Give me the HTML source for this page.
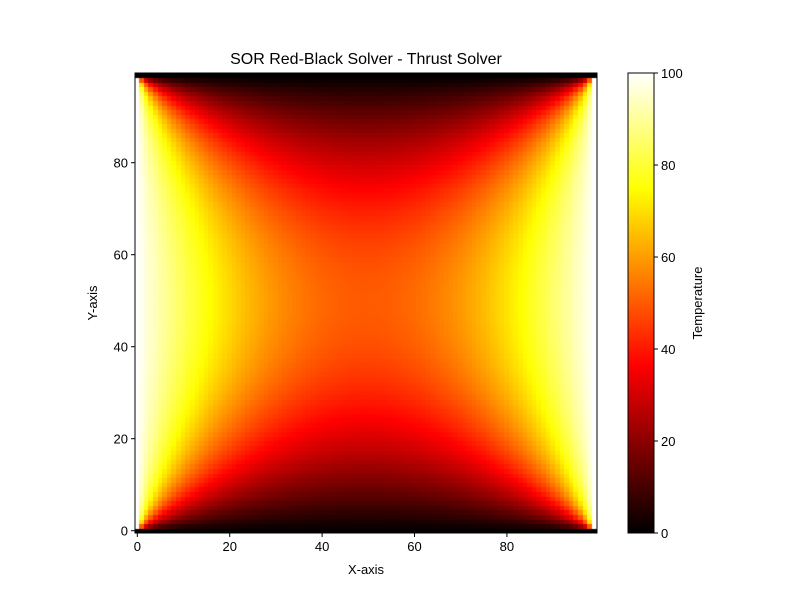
<!DOCTYPE html>
<html><head><meta charset="utf-8"><style>
html,body{margin:0;padding:0;background:#fff;}
#wrap{position:relative;width:800px;height:600px;font-family:"Liberation Sans",sans-serif;}
canvas{position:absolute;}
svg{position:absolute;left:0;top:0;}
</style></head><body>
<div id="wrap">
<canvas id="heat" width="462" height="460" style="left:135px;top:73px"></canvas>
<canvas id="cbar" width="26" height="460" style="left:628px;top:73px"></canvas>
<svg id="ax" width="800" height="600"></svg>
</div>
<script>
// data: boundary conditions of the solved plate
const gridSize = 100;
const leftTemp = 100;
const rightTemp = 100;
const topTemp = 0;
const bottomTemp = 0;
const xTicks = [0,20,40,60,80];
const yTicks = [0,20,40,60,80];
const cbarTicks = [0,20,40,60,80,100];
const vmin = 0, vmax = 100;

// SOR red-black solve
const N = gridSize;
const T = [];
for (let j=0;j<N;j++){T.push(new Float64Array(N));}
for (let j=0;j<N;j++){T[j][0]=leftTemp;T[j][N-1]=rightTemp;}
for (let i=0;i<N;i++){T[0][i]=bottomTemp;T[N-1][i]=topTemp;}
for (let j=1;j<N-1;j++) for (let i=1;i<N-1;i++) T[j][i]=50;
const w=1.94;
for (let it=0;it<3000;it++){
  let md=0;
  for (let c=0;c<2;c++){
    for (let j=1;j<N-1;j++){
      for (let i=1+((j+c)%2);i<N-1;i+=2){
        const nv=0.25*(T[j-1][i]+T[j+1][i]+T[j][i-1]+T[j][i+1]);
        const d=nv-T[j][i];T[j][i]+=w*d;if(Math.abs(d)>md)md=Math.abs(d);
      }
    }
  }
  if(md<1e-5)break;
}
function hot(v){
  const x=Math.max(0,Math.min(1,(v-vmin)/(vmax-vmin)));
  const r=Math.min(1,x/0.365079),g=Math.max(0,Math.min(1,(x-0.365079)/(0.746032-0.365079))),b=Math.max(0,Math.min(1,(x-0.746032)/(1-0.746032)));
  return `rgb(${Math.round(r*255)},${Math.round(g*255)},${Math.round(b*255)})`;
}
// axis functions
const L=135,R=597,Tp=73,B=533;
const xs=v=>L+(v+0.5)/N*(R-L);
const ys=v=>B-(v+0.5)/N*(B-Tp);
const hc=document.getElementById('heat').getContext('2d');
for(let j=0;j<N;j++)for(let i=0;i<N;i++){
  hc.fillStyle=hot(T[j][i]);
  const x0=xs(i-0.5)-L,x1=xs(i+0.5)-L,y0=ys(j+0.5)-Tp,y1=ys(j-0.5)-Tp;
  hc.fillRect(Math.floor(x0),Math.floor(y0),Math.ceil(x1)-Math.floor(x0),Math.ceil(y1)-Math.floor(y0));
}
const cc=document.getElementById('cbar').getContext('2d');
for(let y=0;y<460;y++){cc.fillStyle=hot(vmax-(y+0.5)/460*(vmax-vmin));cc.fillRect(0,y,26,1);}
const svg=document.getElementById('ax');const NS='http://www.w3.org/2000/svg';
function mk(t,a,txt){const e=document.createElementNS(NS,t);for(const k in a)e.setAttribute(k,a[k]);if(txt!==undefined)e.textContent=txt;svg.appendChild(e);return e;}
let e;
e=mk('rect',{x:L,y:Tp,width:R-L,height:B-Tp,fill:'none',stroke:'#000','stroke-width':1});


xTicks.forEach(v=>{
  e=mk('line',{x1:xs(v),x2:xs(v),y1:B,y2:B+4,stroke:'#000'});
  
  
  e=mk('text',{x:xs(v),y:B+18,'font-size':13,'text-anchor':'middle'},v);
  
  
});
yTicks.forEach(v=>{
  e=mk('line',{x1:L-4,x2:L,y1:ys(v),y2:ys(v),stroke:'#000'});
  
  
  e=mk('text',{x:L-7,y:ys(v)+5,'font-size':13,'text-anchor':'end'},v);
  
  
});
e=mk('rect',{x:628,y:73,width:26,height:460,fill:'none',stroke:'#000'});


const cy=v=>533-(v-vmin)/(vmax-vmin)*460;
cbarTicks.forEach(v=>{
  e=mk('line',{x1:654,x2:658,y1:cy(v),y2:cy(v),stroke:'#000'});
  
  
  e=mk('text',{x:661,y:cy(v)+5,'font-size':13},v);
  
  
});
e=mk('text',{x:366,y:64,'font-size':16,'text-anchor':'middle'},'SOR Red-Black Solver - Thrust Solver');


e=mk('text',{x:366,y:574,'font-size':13,'text-anchor':'middle'},'X-axis');


e=mk('text',{x:0,y:0,'font-size':13,'text-anchor':'middle',transform:'translate(97,303) rotate(-90)'},'Y-axis');


e=mk('text',{x:0,y:0,'font-size':13,'text-anchor':'middle',transform:'translate(702,303) rotate(-90)'},'Temperature');


</script>
</body></html>
